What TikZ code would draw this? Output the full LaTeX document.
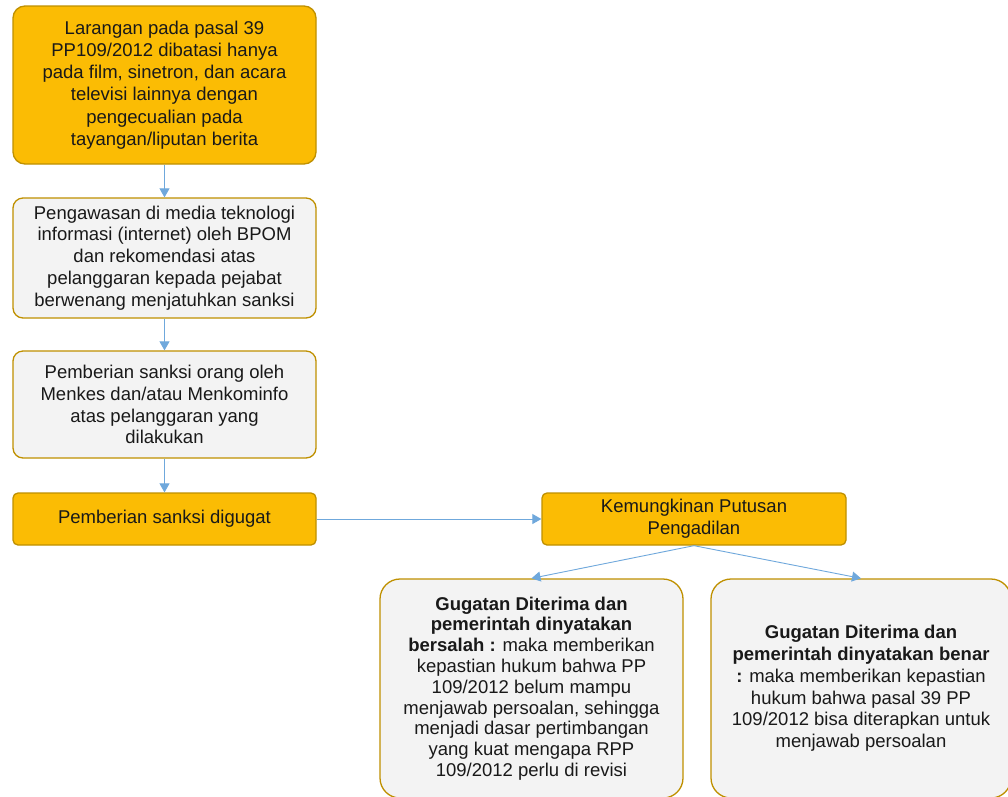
\documentclass[tikz,border=0pt]{standalone}
\usepackage{fontspec}
\setmainfont{Liberation Sans}
\usetikzlibrary{arrows.meta}
\definecolor{orfill}{RGB}{251,188,4}
\definecolor{orline}{RGB}{191,144,0}
\definecolor{grfill}{RGB}{243,243,243}
\definecolor{arrowc}{RGB}{111,168,220}
\tikzset{
  box/.style={draw=orline, line width=1.3pt, align=center, inner sep=0pt,
    font=\fontsize{18.5}{21.8}\selectfont, text=black!90},
  obox/.style={box, fill=orfill},
  gbox/.style={box, fill=grfill},
  conn/.style={draw=arrowc, line width=0.9pt, -{Triangle[length=9pt,width=10pt]}}
}
\begin{document}
\begin{tikzpicture}[x=1pt,y=-1pt]
\useasboundingbox (0,0) rectangle (1008,796);
\fill[white] (0,0) rectangle (1008,796);
\node[obox, rounded corners=12pt, minimum width=303pt, minimum height=158pt,
  font=\fontsize{18.5}{22.2}\selectfont] (b1) at (164.5,85)
  {\raisebox{-3pt}{\parbox{300pt}{\centering Larangan pada pasal 39\\PP109/2012 dibatasi hanya\\pada film, sinetron, dan acara\\televisi lainnya dengan\\pengecualian pada\\tayangan/liputan berita}}};
\node[gbox, rounded corners=10pt, minimum width=303pt, minimum height=120pt] (b2) at (164.5,258)
  {Pengawasan di media teknologi\\informasi (internet) oleh BPOM\\dan rekomendasi atas\\pelanggaran kepada pejabat\\berwenang menjatuhkan sanksi};
\node[gbox, rounded corners=10pt, minimum width=303pt, minimum height=107pt] (b3) at (164.5,404.5)
  {Pemberian sanksi orang oleh\\Menkes dan/atau Menkominfo\\atas pelanggaran yang\\dilakukan};
\node[obox, rounded corners=5pt, minimum width=303pt, minimum height=52pt] (b4) at (164.5,519)
  {Pemberian sanksi digugat};
\node[obox, rounded corners=5pt, minimum width=304pt, minimum height=52pt] (b5) at (694,519)
  {Kemungkinan Putusan\\Pengadilan};
\node[gbox, rounded corners=20pt, minimum width=303pt, minimum height=219pt,
  font=\fontsize{18.5}{20.8}\selectfont] (b6) at (531.5,688.5)
  {\textbf{Gugatan Diterima dan}\\\textbf{pemerintah dinyatakan}\\\textbf{bersalah :} maka memberikan\\kepastian hukum bahwa PP\\109/2012 belum mampu\\menjawab persoalan, sehingga\\menjadi dasar pertimbangan\\yang kuat mengapa RPP\\109/2012 perlu di revisi};
\node[gbox, rounded corners=20pt, minimum width=300pt, minimum height=219pt] (b7) at (861,688.5)
  {\textbf{Gugatan Diterima dan}\\\textbf{pemerintah dinyatakan benar}\\\textbf{:} maka memberikan kepastian\\hukum bahwa pasal 39 PP\\109/2012 bisa diterapkan untuk\\menjawab persoalan};
\draw[conn] (b1) -- (b2);
\draw[conn] (b2) -- (b3);
\draw[conn] (b3) -- (b4);
\draw[conn] (b4) -- (b5);
\draw[conn] (b5.south) -- (b6.north);
\draw[conn] (b5.south) -- (b7.north);
\end{tikzpicture}
\end{document}
